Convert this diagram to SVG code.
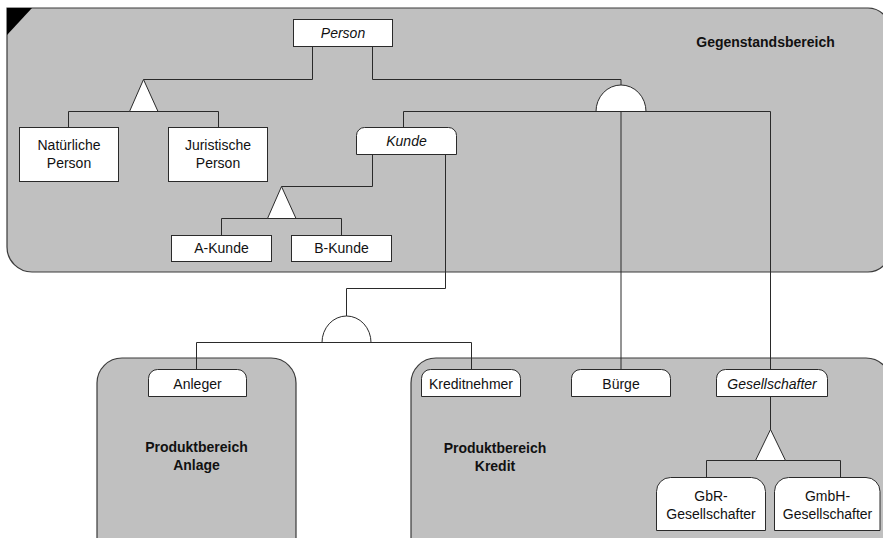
<svg xmlns="http://www.w3.org/2000/svg" width="883" height="538" viewBox="0 0 883 538">
  <style>
    .panel { fill: #c0c0c0; stroke: #3a3a3a; stroke-width: 1.2; }
    .box { fill: #ffffff; stroke: #2a2a2a; stroke-width: 1; }
    .op { fill: #ffffff; stroke: #2a2a2a; stroke-width: 1; }
    .wire { fill: none; stroke: #2a2a2a; stroke-width: 1; }
    .lbl { font-family: "Liberation Sans", Arial, sans-serif; font-size: 14px; fill: #111; text-anchor: middle; }
    .it { font-style: italic; }
    .area { font-family: "Liberation Sans", Arial, sans-serif; font-size: 14px; font-weight: bold; fill: #111; text-anchor: middle; }
  </style>

  <!-- areas -->
  <g id="area-gegenstand">
    <path class="panel" d="M7,8 H868 A22,22 0 0 1 890,30 V250 A22,22 0 0 1 868,272 H32 A25,25 0 0 1 7,247 Z"/>
    <polygon points="7,8 32,8 7,35" fill="#000"/>
    <text class="area" x="765.5" y="47">Gegenstandsbereich</text>
  </g>
  <g id="area-anlage">
    <rect class="panel" x="97" y="358" width="199" height="210" rx="25"/>
    <text class="area" x="196.5" y="452">Produktbereich</text>
    <text class="area" x="196.5" y="470">Anlage</text>
  </g>
  <g id="area-kredit">
    <rect class="panel" x="411" y="358" width="480" height="210" rx="25"/>
    <text class="area" x="495" y="453">Produktbereich</text>
    <text class="area" x="495" y="471">Kredit</text>
  </g>

  <!-- connectors and operators -->
  <g id="connectors">
    <path class="wire" d="M312.5,46 V79.5 H143.5"/>
    <path class="wire" d="M68.5,127 V111.5 H218.5 V127"/>
    <polygon class="op" points="143.5,79.5 129.5,111.5 158,111.5"/>

    <path class="wire" d="M372.5,46 V79.5 H621 V85"/>
    <path class="wire" d="M403.5,127 V111.5 H770.5 V369"/>
    <path class="wire" d="M621,111 V369"/>
    <path class="op" d="M596,111.5 A25,26.5 0 0 1 646,111.5 Z"/>

    <path class="wire" d="M372.5,154 V186.5 H281.5"/>
    <path class="wire" d="M221.5,235 V218.5 H341.5 V235"/>
    <polygon class="op" points="281.5,186.5 267.5,218.5 296,218.5"/>

    <path class="wire" d="M445.5,154 V288.5 H346.5 V316"/>
    <path class="wire" d="M196.5,369 V342.5 H471.5 V369"/>
    <path class="op" d="M322,342.5 A24.5,26.5 0 0 1 371,342.5 Z"/>

    <path class="wire" d="M770.5,396 V430"/>
    <path class="wire" d="M706.5,477 V460.5 H840.5 V477"/>
    <polygon class="op" points="770.5,429.5 755.5,460.5 785.5,460.5"/>
  </g>

  <!-- nodes -->
  <g id="person">
    <rect class="box" x="293.5" y="19.5" width="99" height="27"/>
    <text class="lbl it" x="343" y="37.5">Person</text>
  </g>
  <g id="natuerliche-person">
    <rect class="box" x="19.5" y="127.5" width="99" height="54"/>
    <text class="lbl" x="69" y="150">Natürliche</text>
    <text class="lbl" x="69" y="168">Person</text>
  </g>
  <g id="juristische-person">
    <rect class="box" x="168.5" y="127.5" width="99" height="54"/>
    <text class="lbl" x="218" y="150">Juristische</text>
    <text class="lbl" x="218" y="168">Person</text>
  </g>
  <g id="kunde">
    <path class="box" d="M356.5,154.5 V135.5 A8,8 0 0 1 364.5,127.5 H448.5 A8,8 0 0 1 456.5,135.5 V154.5 Z"/>
    <text class="lbl it" x="406.5" y="145.5">Kunde</text>
  </g>
  <g id="a-kunde">
    <rect class="box" x="171.5" y="235.5" width="100" height="26"/>
    <text class="lbl" x="221.5" y="253">A-Kunde</text>
  </g>
  <g id="b-kunde">
    <rect class="box" x="291.5" y="235.5" width="100" height="26"/>
    <text class="lbl" x="341.5" y="253">B-Kunde</text>
  </g>
  <g id="anleger">
    <path class="box" d="M148.5,396.5 V378.5 A9,9 0 0 1 157.5,369.5 H237.5 A9,9 0 0 1 246.5,378.5 V396.5 Z"/>
    <text class="lbl" x="197.5" y="388.5">Anleger</text>
  </g>
  <g id="kreditnehmer">
    <path class="box" d="M421.5,396.5 V378.5 A9,9 0 0 1 430.5,369.5 H511.5 A9,9 0 0 1 520.5,378.5 V396.5 Z"/>
    <text class="lbl" x="471" y="388.5">Kreditnehmer</text>
  </g>
  <g id="buerge">
    <path class="box" d="M571.5,396.5 V378.5 A9,9 0 0 1 580.5,369.5 H661.5 A9,9 0 0 1 670.5,378.5 V396.5 Z"/>
    <text class="lbl" x="621" y="388.5">Bürge</text>
  </g>
  <g id="gesellschafter">
    <path class="box" d="M716.5,396.5 V378.5 A9,9 0 0 1 725.5,369.5 H818.5 A9,9 0 0 1 827.5,378.5 V396.5 Z"/>
    <text class="lbl it" x="772" y="388.5">Gesellschafter</text>
  </g>
  <g id="gbr-gesellschafter">
    <path class="box" d="M656.5,530.5 V491.5 A14,14 0 0 1 670.5,477.5 H751.5 A14,14 0 0 1 765.5,491.5 V530.5 Z"/>
    <text class="lbl" x="711" y="501">GbR-</text>
    <text class="lbl" x="711" y="518.5">Gesellschafter</text>
  </g>
  <g id="gmbh-gesellschafter">
    <path class="box" d="M774.5,530.5 V491.5 A14,14 0 0 1 788.5,477.5 H866 A14,14 0 0 1 880,491.5 V530.5 Z"/>
    <text class="lbl" x="827.5" y="501">GmbH-</text>
    <text class="lbl" x="827.5" y="518.5">Gesellschafter</text>
  </g>
</svg>
